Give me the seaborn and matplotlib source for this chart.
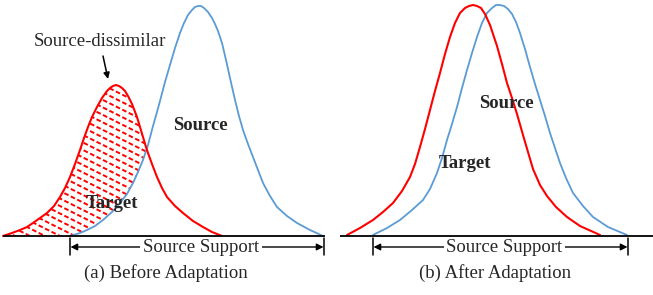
import numpy as np
import pandas as pd
import matplotlib
matplotlib.use("Agg")
import matplotlib.pyplot as plt
from matplotlib.path import Path
import seaborn as sns

# ---- data (x position, height above baseline) ----
# Panel (a) Before Adaptation
src_a_x = [70, 80, 87, 95, 103, 112, 120, 127, 133, 138, 143, 148, 153, 157, 160,
           165, 170, 175, 180, 184, 188, 192, 195, 198, 201, 204, 208, 212, 215,
           218, 222, 226, 230, 235, 239, 243, 248, 253, 258, 263, 270, 277, 287,
           297, 310, 323]
src_a_h = [0, 3, 6, 10, 16, 24, 33, 42, 53, 64, 76, 91, 110, 124, 135,
           154, 171, 188, 203, 213, 221, 226, 229, 230, 230, 228, 224, 218, 212,
           205, 193, 176, 158, 136, 120, 106, 92, 79, 66, 53, 40, 29, 20,
           13, 6, 0]
tgt_a_x = [3, 12, 20, 27, 33, 40, 47, 54, 60, 65, 70, 75, 80, 84, 88, 92, 97,
           102, 107, 110, 113, 116, 119, 122, 125, 128, 132, 137, 140, 143, 146,
           148, 152, 157, 162, 167, 175, 183, 193, 203, 212, 222]
tgt_a_h = [0, 3, 6, 9, 13, 18, 23, 30, 39, 48, 59, 72, 86, 98, 109, 119, 129,
           138, 145, 148, 150, 151, 150, 148, 145, 140, 132, 119, 109, 99, 89,
           83, 72, 59, 48, 39, 30, 23, 15, 9, 4, 0]

# Panel (b) After Adaptation
src_b_x = [373, 387, 400, 412, 423, 430, 437, 442, 447, 452, 457, 462, 467, 472,
           477, 482, 487, 492, 496, 500, 504, 508, 512, 516, 520, 525, 530, 535,
           540, 545, 550, 555, 560, 566, 573, 583, 593, 608, 627]
src_b_h = [1, 8, 16, 26, 36, 47, 63, 78, 96, 112, 129, 148, 166, 183,
           199, 213, 223, 228, 231, 231, 230, 227, 222, 214, 203, 187, 169, 152,
           136, 120, 103, 88, 73, 58, 43, 30, 19, 9, 1]
tgt_b_x = [347, 360, 373, 383, 393, 402, 410, 415, 420, 425, 430, 435, 440, 445,
           450, 455, 460, 465, 469, 473, 477, 481, 485, 490, 494, 497, 502, 507,
           512, 517, 523, 528, 533, 540, 547, 556, 567, 580, 600]
tgt_b_h = [1, 8, 16, 24, 33, 45, 59, 72, 89, 107, 126, 145, 163, 182,
           199, 213, 223, 228, 230, 231, 230, 228, 222, 211, 199, 190, 172, 153,
           138, 122, 101, 84, 67, 51, 40, 29, 19, 10, 1]

baseline_a = [3, 325]
baseline_b = [340, 653]
support_a = [70, 324]
support_b = [373, 628]

captions = ["(a) Before Adaptation", "(b) After Adaptation"]

RED = "#FF0000"
BLUE = "#5B9BD5"

sns.set_theme(style="white")
plt.rcParams["font.family"] = ["Liberation Serif", "DejaVu Serif"]

fig = plt.figure(figsize=(6.53, 2.95), dpi=100)
ax = fig.add_axes([0, 0, 1, 1])

frames = []
for name, xs, hs in [("src_a", src_a_x, src_a_h), ("tgt_a", tgt_a_x, tgt_a_h),
                     ("src_b", src_b_x, src_b_h), ("tgt_b", tgt_b_x, tgt_b_h)]:
    frames.append(pd.DataFrame({"x": xs, "h": hs, "curve": name}))
df = pd.concat(frames, ignore_index=True)

palette = {"src_a": BLUE, "src_b": BLUE, "tgt_a": RED, "tgt_b": RED}
widths = {"src_a": 1.3, "src_b": 1.3, "tgt_a": 1.5, "tgt_b": 1.5}
for name in ["src_a", "tgt_a", "src_b", "tgt_b"]:
    sub = df[df["curve"] == name]
    sns.lineplot(data=sub, x="x", y="h", ax=ax, color=palette[name],
                 lw=widths[name], estimator=None, sort=True, legend=False,
                 solid_joinstyle="round", zorder=3)
ax.set_xlim(0, 653)
ax.set_ylim(-59, 236)
ax.axis("off")

# ---- hatched "source-dissimilar" region ----
grid = np.linspace(tgt_a_x[0], 170, 800)
r = np.interp(grid, tgt_a_x, tgt_a_h)
b = np.interp(grid, src_a_x, src_a_h, left=0)
mask = (r >= b) & (grid < 160)
xs = grid[mask]
verts = np.concatenate([np.column_stack([xs, r[mask]]),
                        np.column_stack([xs[::-1], b[mask][::-1]])])
clip = Path(verts, closed=True)
slope = -0.5
for c in np.arange(0, 260, 7.5):
    hx = np.array([0, 170])
    hy = c + slope * hx
    ln, = ax.plot(hx, hy, color=RED, lw=1.4, dashes=(2.4, 1.3), zorder=2,
                  dash_capstyle="butt")
    ln.set_clip_path(clip, ax.transData)

# ---- baselines ----
for bl in (baseline_a, baseline_b):
    ax.plot(bl, [0, 0], color="black", lw=1.3, solid_capstyle="butt", zorder=6)

# ---- source support arrows ----
fs = 13.5
for sup in (support_a, support_b):
    for xv in sup:
        ax.plot([xv, xv], [-2, -19], color="black", lw=1.1, zorder=6)
    ax.annotate("", xy=(sup[0] + 0.5, -11), xytext=(sup[1] - 0.5, -11),
                arrowprops=dict(arrowstyle="<|-|>", color="black", lw=1.0,
                                mutation_scale=10, shrinkA=0, shrinkB=0),
                zorder=3)
    ax.text((sup[0] + sup[1]) / 2 + 4, -11, "Source Support", ha="center",
            va="center", fontsize=fs, zorder=4,
            bbox=dict(facecolor="white", edgecolor="none", pad=2.0))

# ---- captions ----
ax.text(166, -37, captions[0], ha="center", va="center", fontsize=fs)
ax.text(495, -37, captions[1], ha="center", va="center", fontsize=fs)

# ---- labels ----
ax.text(200, 111, "Source", ha="center", va="center", fontsize=fs,
        fontweight="bold", zorder=7)
ax.text(112, 32, "Target", ha="center", va="center", fontsize=fs,
        fontweight="bold", zorder=7)
ax.text(506, 132, "Source", ha="center", va="center", fontsize=fs,
        fontweight="bold", zorder=7)
ax.text(465, 73, "Target", ha="center", va="center", fontsize=fs,
        fontweight="bold", zorder=7)

ax.text(100, 194, "Source-dissimilar", ha="center", va="center", fontsize=fs)
ax.annotate("", xy=(108, 157), xytext=(103, 180),
            arrowprops=dict(arrowstyle="-|>", color="black", lw=1.1,
                            mutation_scale=9, shrinkA=0, shrinkB=0))

fig.savefig("out.png", dpi=100)
